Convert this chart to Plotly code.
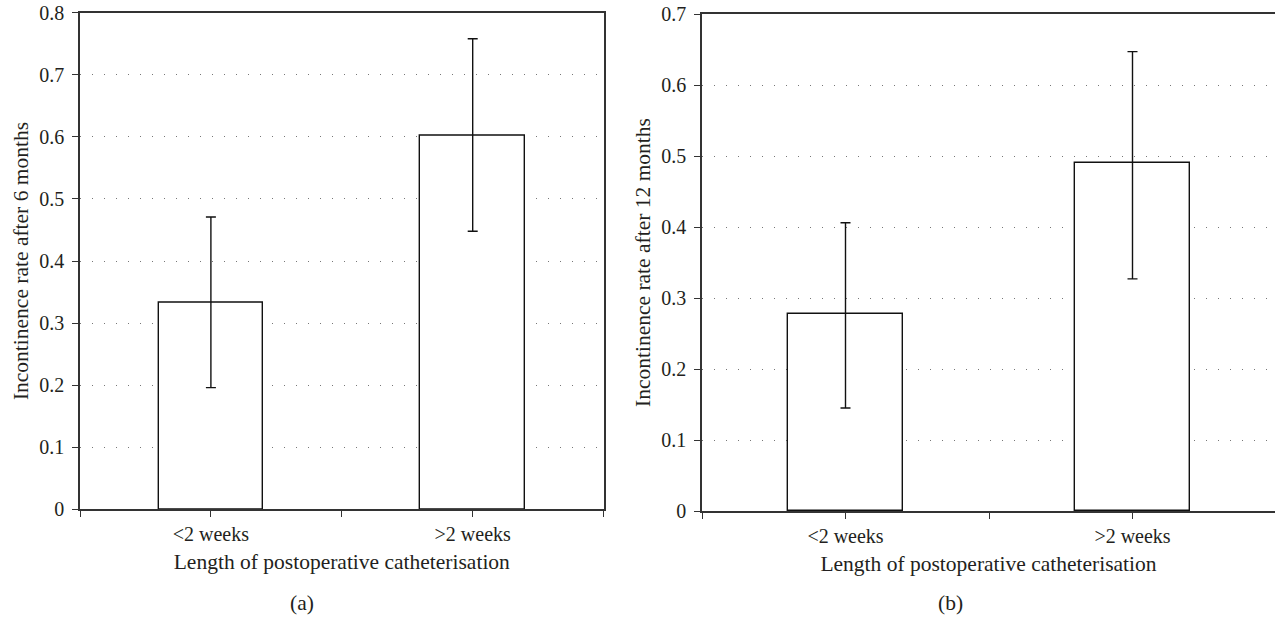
import plotly.graph_objects as go

categories = ["<2 weeks", ">2 weeks"]

rate_6m = [0.333, 0.602]
ci_low_6m = [0.196, 0.448]
ci_high_6m = [0.471, 0.758]

rate_12m = [0.277, 0.490]
ci_low_12m = [0.145, 0.327]
ci_high_12m = [0.406, 0.647]

y_ticks_6m = [0, 0.1, 0.2, 0.3, 0.4, 0.5, 0.6, 0.7, 0.8]
y_ticks_12m = [0, 0.1, 0.2, 0.3, 0.4, 0.5, 0.6, 0.7]

x_title = "Length of postoperative catheterisation"
y_title_6m = "Incontinence rate after 6 months"
y_title_12m = "Incontinence rate after 12 months"

FONT = "Liberation Serif"
TXT = "#231f20"
FS = 20
FT = 21.5

W, H = 1275, 617
xpos = list(range(len(categories)))


def bar(vals, lo, hi, xa, ya):
    return go.Bar(
        x=xpos, y=vals, width=0.4, xaxis=xa, yaxis=ya,
        marker=dict(color="white", line=dict(color="#111111", width=1.4)),
        error_y=dict(type="data", symmetric=False,
                     array=[h - v for h, v in zip(hi, vals)],
                     arrayminus=[v - l for v, l in zip(vals, lo)],
                     color="#111111", thickness=1.4, width=5),
        showlegend=False, hoverinfo="skip",
    )


fig = go.Figure()
fig.add_trace(bar(rate_6m, ci_low_6m, ci_high_6m, "x", "y"))
fig.add_trace(bar(rate_12m, ci_low_12m, ci_high_12m, "x2", "y2"))

tickvals_x = [-0.5, 0, 0.5, 1, 1.5]
ticktext_x = ["", categories[0], "", categories[1], ""]

common_x = dict(
    tickmode="array", tickvals=tickvals_x, ticktext=ticktext_x,
    ticks="outside", ticklen=6, tickwidth=1.4, tickcolor="#333333",
    showline=True, linecolor="#333333", linewidth=1.5, mirror=True,
    showgrid=False, zeroline=False, ticklabelstandoff=0, automargin=False,
    tickfont=dict(family=FONT, size=FS, color=TXT),
    title=dict(text=x_title, font=dict(family=FONT, size=FT, color=TXT), standoff=10),
    fixedrange=True,
)
common_y = dict(
    ticks="outside", ticklen=6, tickwidth=1.4, tickcolor="#333333",
    showline=True, linecolor="#333333", linewidth=1.5,
    showgrid=True, gridcolor="#777777", gridwidth=1, griddash="1px,11px",
    zeroline=False, ticklabelstandoff=4, automargin=False,
    tickfont=dict(family=FONT, size=FS, color=TXT),
    fixedrange=True,
)

fig.update_layout(
    width=W, height=H,
    margin=dict(l=0, r=0, t=0, b=0, autoexpand=False),
    paper_bgcolor="white", plot_bgcolor="white",
    font=dict(family=FONT, size=FS, color=TXT),
    bargap=0,
    xaxis=dict(domain=[80 / W, 603.6 / W], range=[-0.5, 1.5], anchor="y", **common_x),
    yaxis=dict(domain=[1 - 509.3 / H, 1 - 12.7 / H], range=[0, 0.8], anchor="x",
               tickmode="array", tickvals=y_ticks_6m,
               ticktext=[f"{v:g}" for v in y_ticks_6m], mirror=True,
               title=dict(text=y_title_6m, font=dict(family=FONT, size=FT, color=TXT), standoff=5),
               **common_y),
    xaxis2=dict(domain=[702 / W, 1.0], range=[-0.5, 1.4965], anchor="y2", **common_x),
    yaxis2=dict(domain=[1 - 511 / H, 1 - 14 / H], range=[0, 0.7], anchor="x2",
                tickmode="array", tickvals=y_ticks_12m,
                ticktext=[f"{v:g}" for v in y_ticks_12m], mirror=False,
                title=dict(text=y_title_12m, font=dict(family=FONT, size=FT, color=TXT), standoff=5),
                **common_y),
    annotations=[
        dict(text="(a)", x=302 / W, y=1 - 603 / H, xref="paper", yref="paper",
             yanchor="middle", xanchor="center",
             showarrow=False, font=dict(family=FONT, size=FT, color=TXT)),
        dict(text="(b)", x=950 / W, y=1 - 603 / H, xref="paper", yref="paper",
             yanchor="middle", xanchor="center",
             showarrow=False, font=dict(family=FONT, size=FT, color=TXT)),
    ],
)

fig.write_html(
    "out.html",
    config={"displayModeBar": False},
    post_script="document.body.style.margin='0';document.body.style.overflow='hidden';",
)
